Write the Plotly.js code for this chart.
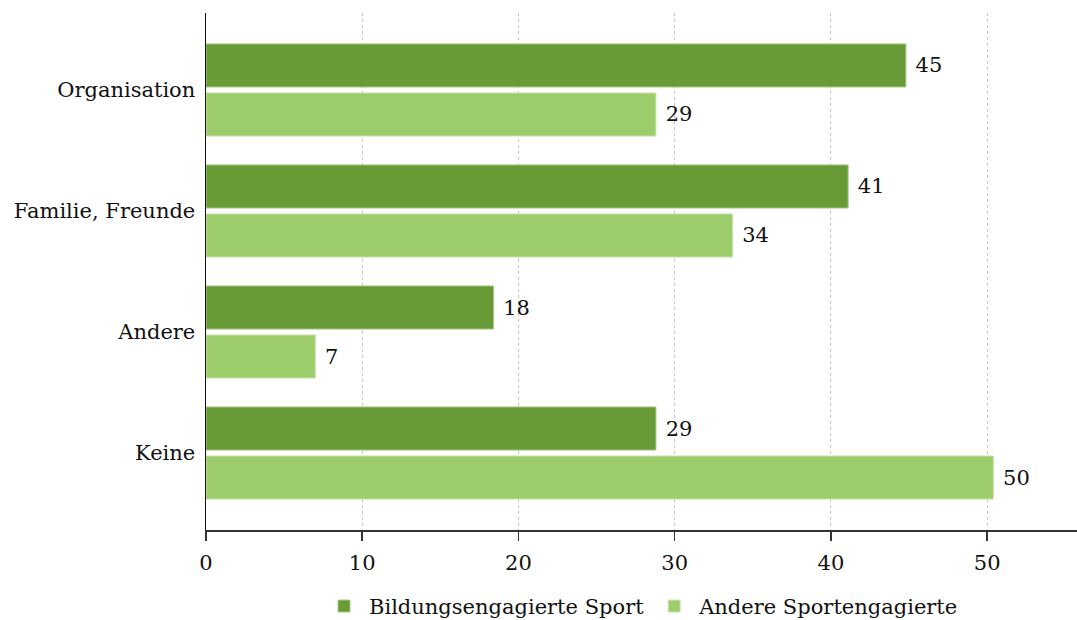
<!DOCTYPE html>
<html>
<head>
<meta charset="utf-8">
<script src="https://cdn.plot.ly/plotly-3.0.1.min.js"></script>
<style>html,body{margin:0;padding:0;background:#fff}#chart{width:1077px;height:620px}</style>
</head>
<body>
<div id="chart"></div>
<script>
var categories = ["Organisation", "Familie, Freunde", "Andere", "Keine"];
var seriesNames = ["Bildungsengagierte Sport", "Andere Sportengagierte"];
var bildung = [44.8, 41.1, 18.4, 28.8];
var andere = [28.8, 33.7, 7.0, 50.4];
var xTicks = [0, 10, 20, 30, 40, 50];
var colors = ["#689a35", "#9dcd6a"];

var FONT = "DejaVu Serif, serif";
var FS = 21;
function labels(arr){ return arr.map(function(v){ return "\u00a0" + Math.round(v); }); }

var traces = [
  {type:"bar", orientation:"h", name:seriesNames[0], y:categories, x:bildung,
   text:labels(bildung), textposition:"outside", cliponaxis:false,
   textfont:{family:FONT, size:FS, color:"#111"},
   marker:{color:colors[0], line:{color:"#a9c98a", width:1}}, hoverinfo:"x+y"},
  {type:"bar", orientation:"h", name:seriesNames[1], y:categories, x:andere,
   text:labels(andere), textposition:"outside", cliponaxis:false,
   textfont:{family:FONT, size:FS, color:"#111"},
   marker:{color:colors[1], line:{color:"#cbe5b0", width:1}}, hoverinfo:"x+y"}
];

var layout = {
  width:1077, height:620,
  margin:{l:206, r:0, t:13, b:90, autoexpand:false},
  paper_bgcolor:"#fff", plot_bgcolor:"#fff",
  font:{family:FONT, size:FS, color:"#111"},
  barmode:"group", bargap:0.19, bargroupgap:0.12,
  showlegend:true,
  legend:{orientation:"h", x:0.5, xanchor:"center", yref:"container", y:0.055, yanchor:"top",
          font:{family:FONT, size:FS, color:"#111"}, traceorder:"normal", itemwidth:40},
  xaxis:{range:[0, 55.75], tickvals:xTicks, ticktext:xTicks.map(String),
         showgrid:true, gridcolor:"#c4c4c4", griddash:"dot", gridwidth:1,
         zeroline:false, showline:true, linecolor:"#333", linewidth:1.5,
         ticks:"outside", ticklen:9, tickcolor:"#333", tickwidth:1.5, ticklabelstandoff:4,
         tickfont:{family:FONT, size:FS, color:"#111"}},
  yaxis:{type:"category", range:[3.636, -0.636], showgrid:false, zeroline:false,
         showline:true, linecolor:"#111", linewidth:1.5, ticks:"", ticklabelstandoff:5,
         tickfont:{family:FONT, size:FS, color:"#111"}}
};

Plotly.newPlot("chart", traces, layout, {displayModeBar:false, staticPlot:true});
</script>
</body>
</html>
